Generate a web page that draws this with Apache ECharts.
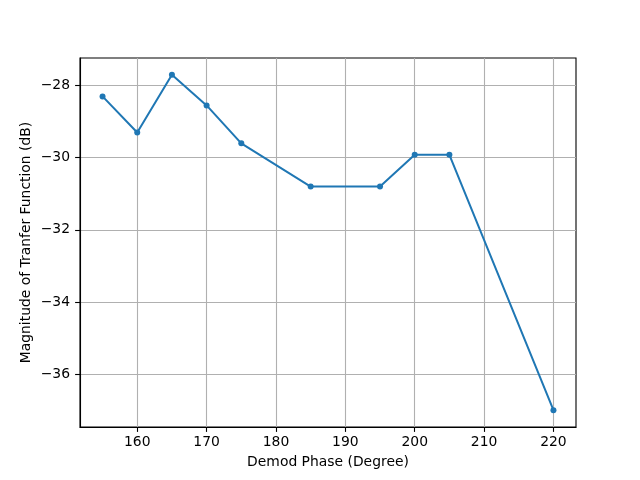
<!DOCTYPE html>
<html>
<head>
<meta charset="utf-8">
<script src="https://cdn.jsdelivr.net/npm/echarts@6/dist/echarts.min.js"></script>
<style>html,body{margin:0;padding:0;background:#fff}#c{width:640px;height:480px}</style>
</head>
<body>
<div id="c"></div>
<script>
const phases = [155, 160, 165, 170, 175, 185, 195, 200, 205, 220];
const magnitudes = [-28.3, -29.3, -27.7, -28.55, -29.6, -30.8, -30.8, -29.92, -29.92, -37.0];
const xTicks = [160, 170, 180, 190, 200, 210, 220];
const yTicks = [-36, -34, -32, -30, -28];

const chart = echarts.init(document.getElementById('c'), null, {renderer: 'canvas'});
const font = 'DejaVu Sans';
const fmt = v => String(v).replace('-', '\u2212');
chart.setOption({
  animation: false,
  backgroundColor: '#fff',
  grid: {left: 80, right: 64, top: 58, bottom: 53, show: true, borderColor: '#000', borderWidth: 1.1, containLabel: false},
  xAxis: {
    type: 'value', min: 151.75, max: 223.25, minInterval: 10, maxInterval: 10,
    name: 'Demod Phase (Degree)', nameLocation: 'middle', nameGap: 28, nameMoveOverlap: false,
    nameTextStyle: {fontFamily: font, fontSize: 13.9, color: '#000'},
    axisLine: {show: true, onZero: false, lineStyle: {color: '#000', width: 1.1}},
    axisTick: {show: true, length: 4.9, lineStyle: {color: '#000', width: 1.1}, customValues: xTicks},
    axisLabel: {fontFamily: font, fontSize: 13.9, color: '#000', margin: 8, formatter: fmt, customValues: xTicks},
    splitLine: {show: true, lineStyle: {color: '#b0b0b0', width: 1.1}}
  },
  yAxis: {
    type: 'value', min: -37.465, max: -27.235, minInterval: 2, maxInterval: 2,
    name: 'Magnitude of Tranfer Function (dB)', nameLocation: 'middle', nameGap: 47, nameRotate: 90, nameMoveOverlap: false,
    nameTextStyle: {fontFamily: font, fontSize: 13.9, color: '#000'},
    axisLine: {show: true, onZero: false, lineStyle: {color: '#000', width: 1.1}},
    axisTick: {show: true, length: 4.9, lineStyle: {color: '#000', width: 1.1}, customValues: yTicks},
    axisLabel: {fontFamily: font, fontSize: 13.9, color: '#000', margin: 10, formatter: fmt, customValues: yTicks},
    splitLine: {show: true, lineStyle: {color: '#b0b0b0', width: 1.1}}
  },
  series: [{
    type: 'line',
    data: phases.map((p, i) => [p, magnitudes[i]]),
    symbol: 'circle', symbolSize: 6, showSymbol: true,
    lineStyle: {color: '#1f77b4', width: 2},
    itemStyle: {color: '#1f77b4', borderWidth: 0},
    emphasis: {disabled: true}
  }]
});
</script>
</body>
</html>
